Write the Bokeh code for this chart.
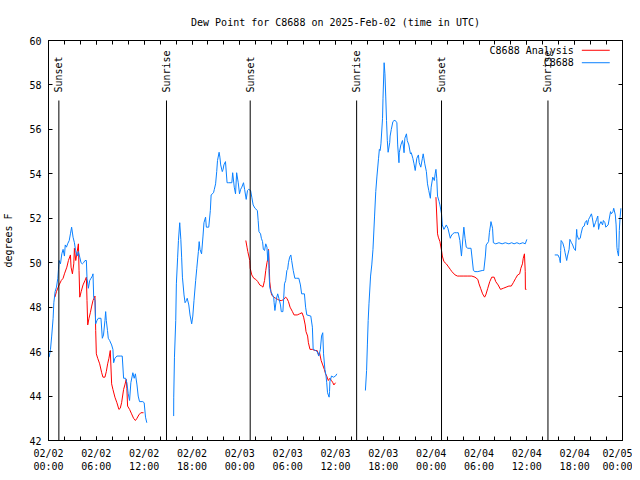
import datetime as dt
import math

from bokeh.plotting import figure
from bokeh.models import (Range1d, FixedTicker, DatetimeTickFormatter, LinearAxis,
                          DatetimeAxis, CustomJSTickFormatter, Label)
from bokeh.core.properties import value
from bokeh.embed import file_html
from bokeh.resources import INLINE

# ---------------- data (hours since 2025-02-02 00:00 UTC, dew point in F) ----------------
obs_seg1 = [(0.08, 45.75), (0.25, 46.1), (0.4, 46.7), (0.58, 47.5), (0.67, 48.2), (0.83, 48.7),
            (1.0, 48.9), (1.17, 49.3), (1.25, 49.7), (1.33, 50.1), (1.5, 49.95), (1.67, 50.4),
            (1.83, 50.6), (2.0, 50.3), (2.1, 50.8), (2.25, 50.7), (2.4, 50.85), (2.6, 51.0),
            (2.75, 51.3), (2.9, 51.6), (3.08, 51.15), (3.25, 50.9), (3.4, 50.55), (3.6, 50.3),
            (3.75, 50.5), (3.92, 50.25), (4.08, 50.0), (4.25, 49.95), (4.4, 50.0), (4.58, 50.1),
            (4.75, 50.1), (4.83, 49.3), (5.0, 48.85), (5.17, 49.2), (5.33, 49.3), (5.5, 49.4),
            (5.58, 49.5), (5.67, 48.45), (5.83, 48.3), (5.92, 47.25), (6.08, 47.4), (6.25, 47.5),
            (6.58, 47.5), (6.75, 46.6), (6.9, 46.75), (7.08, 47.4), (7.17, 47.8), (7.25, 47.4),
            (7.4, 46.95), (7.5, 46.6), (7.67, 46.5), (7.92, 46.3), (8.08, 46.1), (8.17, 45.5),
            (8.33, 45.7), (8.58, 45.8), (9.0, 45.8), (9.25, 45.8), (9.42, 44.8), (9.67, 44.8),
            (9.83, 44.6), (10.0, 44.1), (10.17, 43.8), (10.33, 44.6), (10.5, 44.9), (10.58, 45.05),
            (10.75, 44.8), (10.9, 45.0), (11.1, 44.5), (11.25, 44.0), (11.42, 43.75), (11.83, 43.75),
            (12.0, 43.7), (12.17, 43.05), (12.33, 42.8)]

obs_seg2 = [(15.7, 43.1), (15.71, 43.95), (15.8, 45.75), (15.96, 47.4), (16.04, 49.05), (16.2, 50.25),
            (16.3, 51.0), (16.46, 51.8), (16.6, 51.05), (16.7, 50.25), (16.8, 49.35), (17.0, 48.55),
            (17.13, 48.2), (17.3, 48.3), (17.4, 48.4), (17.6, 48.1), (17.75, 47.65), (17.96, 47.25),
            (18.1, 47.6), (18.25, 48.3), (18.46, 49.2), (18.6, 49.75), (18.8, 50.5), (18.9, 50.95),
            (19.0, 50.6), (19.2, 50.4), (19.38, 51.2), (19.5, 51.8), (19.7, 52.05), (19.8, 51.6),
            (20.1, 51.6), (20.3, 52.35), (20.4, 53.05), (20.7, 53.15), (20.8, 53.3), (20.96, 53.55),
            (21.1, 54.1), (21.2, 54.6), (21.4, 54.97), (21.5, 54.75), (21.6, 54.4), (21.8, 54.1),
            (21.9, 54.2), (22.0, 54.4), (22.2, 54.55), (22.4, 53.6), (22.6, 53.6), (23.0, 53.6),
            (23.1, 54.05), (23.3, 53.4), (23.46, 53.1), (23.6, 54.05), (23.8, 53.6), (23.96, 53.1),
            (24.1, 53.3), (24.25, 53.4), (24.46, 53.6), (24.6, 53.3), (24.8, 52.85), (24.96, 53.25),
            (25.1, 53.3), (25.35, 53.25), (25.5, 52.95), (25.67, 52.6), (25.9, 52.45), (26.2, 52.35),
            (26.3, 51.9), (26.4, 51.4), (26.6, 51.3), (26.7, 51.1), (26.85, 50.95), (26.95, 50.6),
            (27.1, 50.55), (27.25, 50.85), (27.4, 50.7), (27.5, 50.1), (27.6, 50.55), (27.67, 49.5),
            (27.75, 48.9), (27.9, 48.7), (28.1, 48.55), (28.25, 48.45), (28.3, 48.2), (28.4, 47.85),
            (28.6, 48.4), (28.75, 48.6), (28.9, 48.4), (29.1, 48.1), (29.2, 47.8), (29.4, 47.8),
            (29.5, 48.4), (29.6, 49.05), (29.75, 49.2), (29.9, 49.65), (30.0, 49.7), (30.1, 50.0),
            (30.25, 50.25), (30.4, 50.35), (30.5, 50.1), (30.7, 49.65), (30.9, 49.3), (31.1, 49.3),
            (31.4, 49.3), (31.6, 49.0), (31.75, 48.6), (32.1, 48.6), (32.25, 48.0), (32.4, 47.65),
            (32.9, 47.6), (33.1, 47.1), (33.2, 46.1), (33.5, 46.05), (33.7, 46.0), (33.9, 45.8),
            (34.1, 46.1), (34.25, 46.7), (34.4, 46.85), (34.5, 45.9), (34.67, 45.2), (34.8, 44.95),
            (34.9, 44.6), (35.0, 44.15), (35.2, 43.95), (35.25, 44.2), (35.3, 44.65), (35.5, 44.9),
            (35.75, 44.85), (36.0, 44.9), (36.17, 45.0)]

obs_seg3 = [(39.75, 44.25), (39.9, 45.15), (40.0, 46.3), (40.1, 47.4), (40.2, 48.15), (40.4, 49.4),
            (40.55, 49.9), (40.7, 50.6), (40.9, 52.1), (41.05, 53.2), (41.2, 53.9), (41.4, 54.7),
            (41.5, 55.1), (41.6, 55.05), (41.7, 55.35), (41.9, 56.5), (41.96, 57.4), (42.1, 59.0),
            (42.2, 58.5), (42.3, 57.5), (42.4, 56.4), (42.5, 55.5), (42.6, 54.97), (42.8, 55.4),
            (42.85, 55.7), (43.0, 56.0), (43.2, 56.35), (43.35, 56.4), (43.5, 56.4), (43.7, 56.3),
            (43.8, 55.3), (43.96, 54.5), (44.0, 54.95), (44.2, 55.3), (44.4, 55.5), (44.5, 55.3),
            (44.6, 54.95), (44.7, 55.6), (44.9, 55.8), (45.0, 55.5), (45.2, 55.3), (45.4, 54.9),
            (45.5, 54.95), (45.7, 54.7), (45.85, 54.45), (46.0, 54.15), (46.2, 54.7), (46.4, 54.85),
            (46.5, 54.5), (46.7, 54.3), (46.9, 54.7), (47.0, 54.9), (47.2, 54.45), (47.4, 54.1),
            (47.54, 53.55), (47.7, 53.25), (47.9, 52.9), (48.0, 53.4), (48.2, 53.85), (48.4, 53.7),
            (48.5, 54.0), (48.6, 54.2), (48.7, 53.8), (48.8, 53.0), (49.0, 52.75), (49.1, 52.6),
            (49.3, 52.2), (49.4, 51.7), (49.6, 51.5), (49.75, 51.6), (49.9, 51.7), (50.1, 51.55),
            (50.4, 51.1), (50.5, 51.2), (50.7, 51.3), (50.9, 51.35), (51.2, 51.35), (51.4, 51.35),
            (51.6, 51.0), (51.8, 50.3), (51.9, 50.75), (52.0, 51.2), (52.1, 51.6), (52.25, 51.1),
            (52.4, 50.7), (52.6, 50.65), (53.0, 50.65), (53.3, 49.65), (53.5, 49.6), (53.85, 49.6),
            (54.4, 49.65), (54.6, 49.65), (54.8, 50.3), (54.9, 50.8), (55.2, 50.95), (55.3, 51.35),
            (55.45, 51.7), (55.5, 51.85), (55.7, 51.55), (55.8, 50.9), (56.1, 50.85), (56.5, 50.9),
            (56.9, 50.85), (57.3, 50.9), (57.75, 50.85), (58.1, 50.9), (58.4, 50.85), (58.75, 50.9),
            (59.1, 50.85), (59.5, 50.9), (59.8, 50.85), (60.0, 51.05)]

obs_seg4 = [(63.5, 50.35), (63.9, 50.35), (64.1, 50.2), (64.2, 50.0), (64.25, 50.55), (64.3, 51.0),
            (64.5, 50.9), (64.7, 50.65), (64.8, 50.45), (65.0, 50.1), (65.1, 50.3), (65.3, 50.6),
            (65.4, 51.05), (65.6, 50.9), (65.75, 50.8), (65.9, 50.65), (66.1, 50.55), (66.25, 51.5),
            (66.3, 51.25), (66.5, 51.05), (66.7, 51.1), (66.8, 51.3), (67.0, 51.6), (67.2, 51.65),
            (67.3, 51.8), (67.5, 51.9), (67.6, 51.7), (67.75, 51.95), (67.9, 52.05), (68.1, 52.2),
            (68.2, 52.05), (68.4, 51.6), (68.6, 51.8), (68.75, 51.95), (68.9, 52.1), (69.0, 51.5),
            (69.1, 51.7), (69.3, 51.85), (69.5, 51.7), (69.6, 51.9), (69.8, 51.8), (69.9, 51.6),
            (70.2, 51.7), (70.5, 52.3), (70.6, 52.2), (70.8, 52.3), (70.9, 52.45), (71.1, 52.15),
            (71.2, 51.7), (71.3, 50.7), (71.35, 50.55), (71.5, 50.3), (71.55, 50.7), (71.6, 51.45),
            (71.7, 52.05), (71.8, 52.45)]

ana_seg1 = [(0.8, 48.45), (1.0, 48.7), (1.33, 49.0), (1.6, 49.2), (1.83, 49.3), (2.0, 49.5),
            (2.3, 49.8), (2.5, 50.1), (2.75, 50.35), (2.83, 49.8), (3.0, 49.5), (3.17, 49.95),
            (3.25, 50.65), (3.42, 50.1), (3.6, 50.5), (3.75, 50.85), (3.83, 49.65), (3.92, 48.45),
            (4.1, 48.7), (4.33, 49.0), (4.58, 49.2), (4.75, 49.35), (4.83, 48.3), (4.92, 47.2),
            (5.08, 47.5), (5.25, 47.75), (5.42, 48.05), (5.58, 48.3), (5.83, 48.5), (5.92, 46.95),
            (6.0, 45.9), (6.17, 45.7), (6.42, 45.45), (6.67, 45.05), (6.83, 44.85), (7.08, 44.85),
            (7.25, 45.1), (7.42, 45.45), (7.58, 45.7), (7.75, 46.05), (7.92, 44.55), (8.08, 44.3),
            (8.33, 43.95), (8.58, 43.7), (8.83, 43.4), (9.0, 43.45), (9.17, 43.7), (9.42, 44.3),
            (9.58, 44.5), (9.75, 44.75), (9.83, 44.35), (9.92, 43.55), (10.17, 43.4), (10.42, 43.2),
            (10.67, 43.0), (10.9, 42.9), (11.1, 43.0), (11.33, 43.15), (11.58, 43.25), (11.92, 43.25)]

ana_seg2 = [(24.75, 51.0), (24.9, 50.7), (25.0, 50.5), (25.25, 50.1), (25.3, 49.75), (25.5, 49.45),
            (25.75, 49.3), (26.0, 49.25), (26.25, 49.15), (26.5, 49.0), (26.75, 48.95), (26.9, 48.9),
            (27.1, 49.2), (27.25, 49.65), (27.4, 50.0), (27.5, 50.15), (27.6, 50.6), (27.7, 49.75),
            (27.75, 49.15), (27.9, 48.7), (28.0, 48.55), (28.25, 48.45), (28.5, 48.4), (28.75, 48.35),
            (29.0, 48.3), (29.25, 48.3), (29.5, 48.35), (29.75, 48.45), (29.9, 48.4), (30.1, 48.25),
            (30.3, 48.0), (30.6, 47.8), (30.8, 47.65), (31.2, 47.65), (31.5, 47.7), (31.8, 47.75),
            (32.0, 47.55), (32.2, 47.2), (32.3, 46.9), (32.5, 46.7), (32.6, 46.4), (32.8, 46.1),
            (33.1, 46.1), (33.4, 46.05), (33.7, 46.05), (33.9, 45.85), (34.0, 45.95), (34.2, 45.6),
            (34.4, 45.4), (34.6, 45.2), (34.75, 45.0), (34.9, 44.9), (35.1, 44.7), (35.3, 44.8),
            (35.5, 44.7), (35.67, 44.6), (35.8, 44.5), (36.0, 44.6)]

ana_seg3 = [(48.6, 52.95), (48.8, 51.3), (48.9, 51.15), (49.1, 50.95), (49.3, 50.55), (49.4, 50.3),
            (49.6, 50.05), (49.9, 49.95), (50.1, 49.85), (50.4, 49.7), (50.6, 49.6), (51.0, 49.45),
            (51.3, 49.4), (51.6, 49.4), (52.1, 49.4), (52.6, 49.4), (53.1, 49.4), (53.5, 49.35),
            (53.85, 49.25), (54.0, 49.05), (54.2, 48.85), (54.45, 48.6), (54.7, 48.45), (54.85, 48.55),
            (55.1, 48.85), (55.35, 49.15), (55.6, 49.35), (55.9, 49.35), (56.1, 49.15), (56.4, 49.0),
            (56.7, 48.8), (57.05, 48.85), (57.4, 48.9), (57.75, 48.95), (58.05, 48.95), (58.3, 49.1),
            (58.6, 49.3), (58.85, 49.45), (59.1, 49.5), (59.25, 49.75), (59.45, 49.95), (59.55, 50.2),
            (59.7, 50.4), (59.8, 49.6), (59.82, 48.8), (59.95, 48.8)]

sun_hours = [1.3, 14.8, 25.3, 38.65, 49.3, 62.65]
sun_labels = ["Sunset", "Sunrise", "Sunset", "Sunrise", "Sunset", "Sunrise"]

y_ticks = [42, 44, 46, 48, 50, 52, 54, 56, 58, 60]
x_major_hours = list(range(0, 73, 6))
x_minor_hours = list(range(0, 73, 2))

TITLE = "Dew Point for C8688 on 2025-Feb-02 (time in UTC)"
Y_LABEL = "degrees F"
SERIES_NAMES = ["C8688 Analysis", "C8688"]

# ---------------- styling constants ----------------
FONT = "DejaVu Sans Mono"
FS = "10px"
RED = "#ff0000"
BLUE = "#0a80ff"
SUN_LINE_TOP = 57.3
SUN_LABEL_Y = 57.66
LEG_TEXT_X_H = 65.9
LEG_KEY_X0_H, LEG_KEY_X1_H = 66.9, 70.4
LEG_Y = [59.56, 59.0]

BASE_MS = dt.datetime(2025, 2, 2, tzinfo=dt.timezone.utc).timestamp() * 1000.0
HOUR_MS = 3600000.0


def tx(hours):
    return [BASE_MS + h * HOUR_MS for h in hours]


def split(seg):
    return tx([a for a, _ in seg]), [b for _, b in seg]


p = figure(width=632, height=476, output_backend="svg", toolbar_location=None,
           x_axis_type="datetime",
           x_range=Range1d(BASE_MS, BASE_MS + 72 * HOUR_MS),
           y_range=Range1d(42, 60),
           min_border_left=46, min_border_right=10, min_border_top=40, min_border_bottom=36,
           title=TITLE)
p.xgrid.visible = False
p.ygrid.visible = False
p.outline_line_color = "black"
p.outline_line_alpha = 1.0
p.outline_line_width = 1
p.background_fill_color = "white"
p.border_fill_color = "white"

p.title.align = "center"
p.title.text_font = FONT
p.title.text_font_size = FS
p.title.text_font_style = "normal"
p.title.text_color = "black"
p.title.standoff = 25

fmt = "%m/%d\n%H:%M"
xax = p.xaxis[0]
xax.ticker = FixedTicker(ticks=tx(x_major_hours), minor_ticks=tx(x_minor_hours))
xax.formatter = DatetimeTickFormatter(microseconds=fmt, milliseconds=fmt, seconds=fmt, minsec=fmt,
                                      minutes=fmt, hourmin=fmt, hours=fmt, days=fmt,
                                      months=fmt, years=fmt)
yax = p.yaxis[0]
yax.ticker = FixedTicker(ticks=y_ticks, minor_ticks=[])
yax.axis_label = Y_LABEL
yax.axis_label_text_font = FONT
yax.axis_label_text_font_size = FS
yax.axis_label_text_font_style = "normal"
yax.axis_label_text_color = "black"
yax.axis_label_standoff = 12

for ax in (xax, yax):
    ax.major_label_text_font = FONT
    ax.major_label_text_font_size = FS
    ax.major_label_text_color = "black"
    ax.axis_line_color = "black"
    ax.major_tick_line_color = "black"
    ax.minor_tick_line_color = "black"
    ax.major_tick_in = 4
    ax.major_tick_out = 0
    ax.minor_tick_in = 4
    ax.minor_tick_out = 0
yax.major_label_standoff = 7
xax.major_label_standoff = 7
xax.major_label_text_line_height = 1.2

blank = CustomJSTickFormatter(code="return ''")
rax = LinearAxis(ticker=FixedTicker(ticks=y_ticks, minor_ticks=[]), formatter=blank)
tax = DatetimeAxis(ticker=FixedTicker(ticks=tx(x_major_hours), minor_ticks=tx(x_minor_hours)),
                   formatter=CustomJSTickFormatter(code="return ''"))
for ax in (rax, tax):
    ax.major_label_text_font_size = "1px"
    ax.major_label_standoff = 0
    ax.axis_line_color = "black"
    ax.major_tick_line_color = "black"
    ax.minor_tick_line_color = "black"
    ax.major_tick_in = 4
    ax.major_tick_out = 0
    ax.minor_tick_in = 4
    ax.minor_tick_out = 0
p.add_layout(rax, "right")
p.add_layout(tax, "above")

# data lines: analysis first, observations on top
for seg in (ana_seg1, ana_seg2, ana_seg3):
    xs, ys = split(seg)
    p.line(xs, ys, line_color=RED, line_width=1)
for seg in (obs_seg1, obs_seg2, obs_seg3, obs_seg4):
    xs, ys = split(seg)
    p.line(xs, ys, line_color=BLUE, line_width=1)

# sunrise / sunset markers
sx = tx(sun_hours)
p.segment(x0=sx, y0=[SUN_LINE_TOP] * len(sx), x1=sx, y1=[42] * len(sx),
          line_color="black", line_width=1)
p.text(x=sx, y=[SUN_LABEL_Y] * len(sx), text=sun_labels, angle=math.pi / 2,
       text_align="left", text_baseline="middle", text_font=value(FONT),
       text_font_size=FS, text_color="black")

# legend (text left of key, as in the original)
for name, col, yy in zip(SERIES_NAMES, [RED, BLUE], LEG_Y):
    p.add_layout(Label(x=tx([LEG_TEXT_X_H])[0], y=yy, text=name, text_align="right",
                       text_baseline="middle", text_font=FONT, text_font_size=FS,
                       text_color="black"))
    p.segment(x0=tx([LEG_KEY_X0_H]), y0=[yy], x1=tx([LEG_KEY_X1_H]), y1=[yy],
              line_color=col, line_width=1)

open("out.html", "w").write(file_html(p, INLINE))
